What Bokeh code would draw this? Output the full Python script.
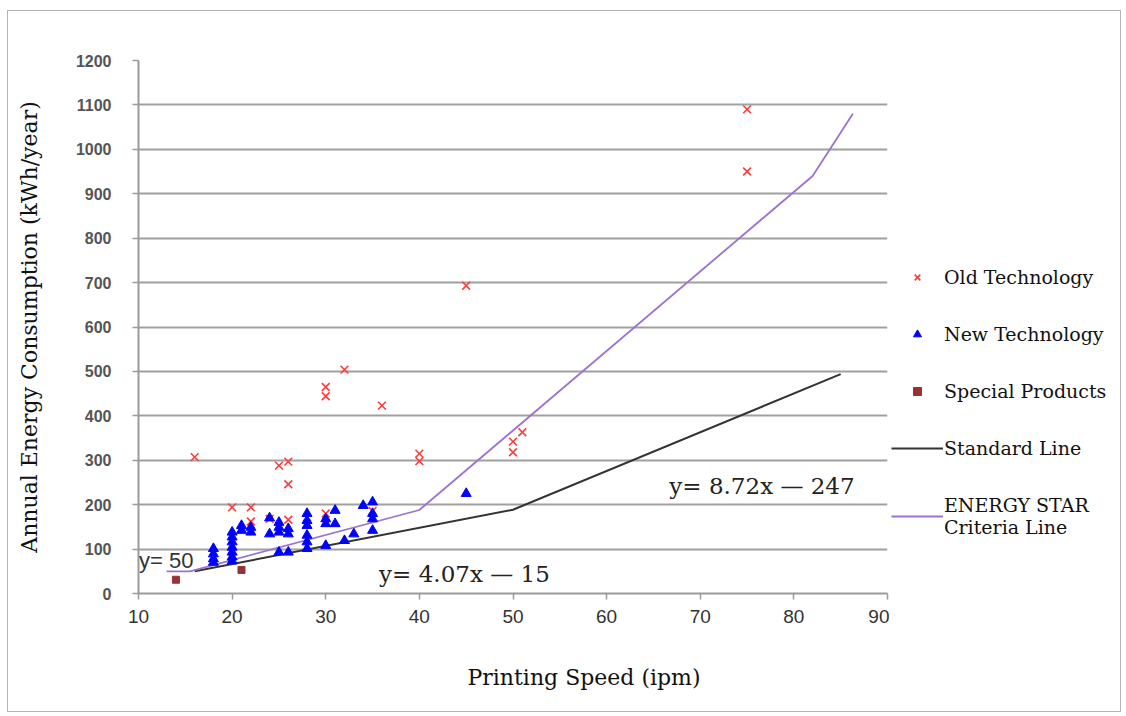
from bokeh.plotting import figure
from bokeh.models import (Range1d, FixedTicker, Legend, LegendItem, Label, Title)
from bokeh.layouts import row
from bokeh.embed import file_html
from bokeh.resources import INLINE

# ---- data ----
old_x = [16, 20, 22, 22, 24, 25, 26, 26, 26, 28, 30, 30, 30, 32, 35, 36, 40, 40, 45, 50, 50, 51, 75, 75]
old_y = [307, 194, 194, 162, 168, 288, 297, 246, 166, 157, 180, 465, 444, 504, 186, 423, 315, 298, 693, 342, 318, 363, 1090, 950]

new_x = [18, 18, 18, 18,
         20, 20, 20, 20, 20, 20, 20,
         21, 21, 22, 22, 24, 24,
         25, 25, 25, 25, 26, 26, 26,
         28, 28, 28, 28, 28, 28,
         30, 30, 30, 31, 31, 32, 33, 34,
         35, 35, 35, 35, 45]
new_y = [101, 89, 78, 70,
         138, 127, 116, 104, 93, 82, 73,
         153, 142, 149, 138, 170, 134,
         160, 149, 138, 93, 146, 134, 93,
         180, 164, 153, 131, 116, 101,
         168, 157, 108, 187, 157, 119, 134, 198,
         206, 180, 168, 142, 225]

special_x = [14, 21]
special_y = [31, 53]

std_x = [16, 50, 85]
std_y = [50, 188.5, 494]

star_x = [13, 15.5, 40, 82, 86.3]
star_y = [50, 50, 188, 940, 1080]

x_ticks = [10, 20, 30, 40, 50, 60, 70, 80, 90]
y_ticks = [0, 100, 200, 300, 400, 500, 600, 700, 800, 900, 1000, 1100, 1200]

legend_labels = ["Old Technology", "New Technology", "Special Products",
                 "Standard Line", "ENERGY STAR\nCriteria Line"]

SERIF = "DejaVu Serif"

OLD_STYLE = dict(marker="x", size=11, line_color="#ff3b3b", line_width=1.6)
NEW_STYLE = dict(marker="triangle", size=10, fill_color="#0000ff", line_color="#0000ff")
SP_STYLE = dict(marker="square", size=7, fill_color="#993333", line_color="#993333")
STD_STYLE = dict(line_color="#333333", line_width=2)
STAR_STYLE = dict(line_color="#9b72d2", line_width=1.8)

# ---------------- main chart ----------------
p = figure(width=881, height=700, output_backend="svg", toolbar_location=None,
           x_range=Range1d(10, 90), y_range=Range1d(0, 1200),
           min_border_left=130, min_border_top=49, min_border_right=2, min_border_bottom=118)
p.outline_line_color = None
p.background_fill_color = "white"

p.xaxis.ticker = FixedTicker(ticks=x_ticks)
p.yaxis.ticker = FixedTicker(ticks=y_ticks)
for ax in (p.xaxis[0], p.yaxis[0]):
    ax.axis_line_color = "#9a9a9a"
    ax.axis_line_width = 2
    ax.major_tick_line_color = "#9a9a9a"
    ax.major_tick_line_width = 1.5
    ax.major_tick_in = 0
    ax.major_tick_out = 6
    ax.minor_tick_line_color = None

p.xaxis.major_label_text_font = "Liberation Sans Narrow, Liberation Sans"
p.xaxis.major_label_text_font_size = "19px"
p.xaxis.major_label_text_color = "#333333"
p.xaxis.major_label_standoff = 10

p.yaxis.major_label_text_font = "Liberation Sans"
p.yaxis.major_label_text_font_size = "16px"
p.yaxis.major_label_text_font_style = "bold"
p.yaxis.major_label_text_color = "#555555"
p.yaxis.major_label_standoff = 21

p.yaxis.axis_label = "Annual Energy Consumption (kWh/year)"
p.yaxis.axis_label_text_font = SERIF
p.yaxis.axis_label_text_font_size = "22px"
p.yaxis.axis_label_text_font_style = "normal"
p.yaxis.axis_label_text_color = "#111111"
p.yaxis.axis_label_standoff = 31

# spacer panel, then the x-axis title (placed left-aligned with an offset, as in the reference)
p.add_layout(Title(text=" ", standoff=11, text_font=SERIF, text_font_size="22px"), "below")
p.add_layout(Title(text="Printing Speed (ipm)", align="left", offset=329, vertical_align="top",
                   standoff=0, text_font=SERIF, text_font_size="22px", text_font_style="normal",
                   text_color="#111111"), "below")

p.xgrid.grid_line_color = None
p.ygrid.grid_line_color = "#a0a0a0"
p.ygrid.grid_line_width = 2

p.line(std_x, std_y, **STD_STYLE)
p.line(star_x, star_y, **STAR_STYLE)
p.scatter(old_x, old_y, **OLD_STYLE)
p.scatter(new_x, new_y, **NEW_STYLE)
p.scatter(special_x, special_y, **SP_STYLE)

p.add_layout(Label(x=10.05, y=74, text="y= 50", text_font="Liberation Sans", text_font_size="22px",
                   text_color="#333333", text_baseline="middle", text_align="left"))
p.add_layout(Label(x=35.7, y=45, text="y= 4.07x — 15", text_font=SERIF, text_font_size="23px",
                   text_color="#222222", text_baseline="middle", text_align="left"))
p.add_layout(Label(x=66.7, y=241, text="y= 8.72x — 247", text_font=SERIF, text_font_size="23px",
                   text_color="#222222", text_baseline="middle", text_align="left"))

# ---------------- legend panel ----------------
# the same series are drawn here outside the visible range, only so the legend has glyphs
lg = figure(width=231, height=700, output_backend="svg", toolbar_location=None,
            x_range=Range1d(0, 1), y_range=Range1d(0, 1),
            x_axis_location=None, y_axis_location=None,
            min_border_left=0, min_border_right=0, min_border_top=0, min_border_bottom=0)
lg.outline_line_color = None
lg.xgrid.grid_line_color = None
lg.ygrid.grid_line_color = None

e_old = lg.scatter(old_x, old_y, **OLD_STYLE)
e_new = lg.scatter(new_x, new_y, **NEW_STYLE)
e_sp = lg.scatter(special_x, special_y, **SP_STYLE)
e_std = lg.line(std_x, std_y, **STD_STYLE)
e_star = lg.line(star_x, star_y, **STAR_STYLE)

legend = Legend(items=[LegendItem(label=t, renderers=[r]) for t, r in
                       zip(legend_labels, [e_old, e_new, e_sp, e_std, e_star])],
                location=(2, 55))
legend.label_text_font = SERIF
legend.label_text_font_size = "19px"
legend.label_text_color = "#111111"
legend.glyph_width = 52
legend.glyph_height = 20
legend.label_height = 20
legend.label_standoff = 1
legend.spacing = 35
legend.padding = 0
legend.margin = 0
legend.border_line_color = None
legend.background_fill_alpha = 0
lg.add_layout(legend, "center")

layout = row(p, lg)
layout.styles = {"border": "1px solid #b4b4b4", "margin-left": "7px", "margin-top": "10px"}

open("out.html", "w").write(file_html(layout, INLINE))
